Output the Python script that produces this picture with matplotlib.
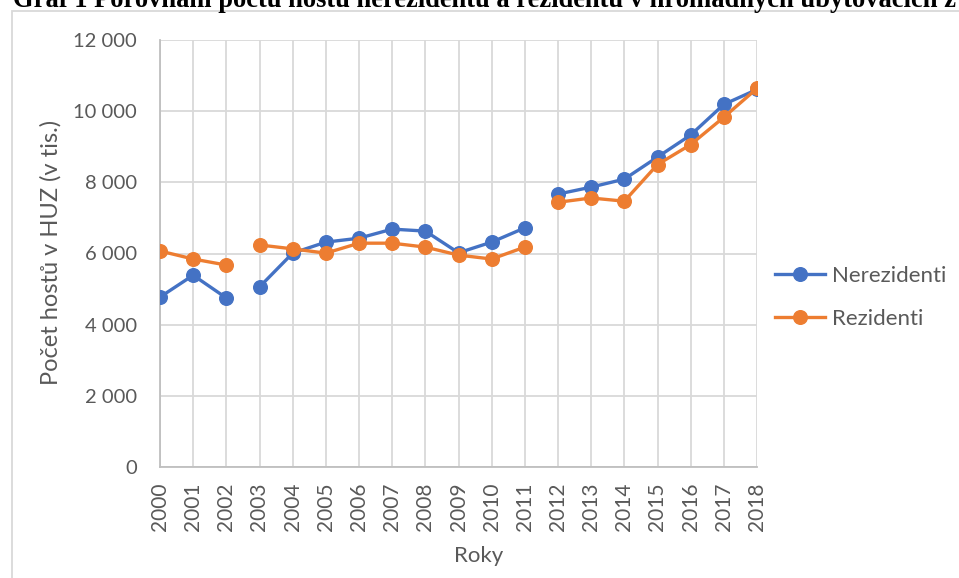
import matplotlib
matplotlib.use("Agg")
import matplotlib.pyplot as plt
from matplotlib.patches import Rectangle
from matplotlib.lines import Line2D
import numpy as np

years = [str(y) for y in range(2000, 2019)]
nerezidenti = [4775, 5390, 4750, 5060, 6010, 6320, 6430, 6685, 6630, 6020,
               6320, 6720, 7670, 7865, 8090, 8710, 9330, 10190, 10610]
rezidenti = [6070, 5845, 5675, 6240, 6130, 6010, 6290, 6290, 6180, 5955,
             5845, 6180, 7440, 7560, 7470, 8500, 9060, 9830, 10640]
# series are drawn as separate connected runs starting at these years
run_starts = ["2000", "2003", "2012"]
yticks = [0, 2000, 4000, 6000, 8000, 10000, 12000]

W, H = 959, 578
fig = plt.figure(figsize=(W / 100, H / 100), dpi=100)

label_color = "#595959"
grid_color = "#D9D9D9"
font = ["Lato", "DejaVu Sans"]

# chart frame
fig.patches.append(Rectangle((12 / W, -0.1), 1.2, (H - 11) / H + 0.1,
                             transform=fig.transFigure, fill=False,
                             edgecolor="#D9D9D9", linewidth=1.3))

# caption above chart (cropped by the screenshot edge, as in the reference)
fig.text(13 / W, 1 - 7 / H,
         "Graf 1 Porovnání počtu hostů nerezidentů a rezidentů v hromadných ubytovacích z",
         family=["Liberation Serif", "DejaVu Serif"], fontweight="bold",
         fontsize=19.1, va="baseline", ha="left", color="black")

ax = fig.add_axes([160 / W, 1 - 467 / H, (757 - 160) / W, (467 - 40) / H])

x = np.arange(len(years))
starts = [years.index(s) for s in run_starts] + [len(years)]
series = [(nerezidenti, "#4472C4", "Nerezidenti"), (rezidenti, "#ED7D31", "Rezidenti")]
for vals, col, name in series:
    v = np.array(vals, dtype=float)
    for a, b in zip(starts[:-1], starts[1:]):
        ax.plot(x[a:b], v[a:b], color=col, linewidth=2.4, marker="o",
                markersize=9.8, solid_capstyle="round", zorder=3)

ax.set_xlim(0, len(years) - 1)
ax.set_ylim(0, 12000)
ax.set_xticks(x)
ax.set_xticklabels(years, rotation=90, family=font, fontsize=15, color=label_color)
ax.set_yticks(yticks)
ax.set_yticklabels([f"{t:,}".replace(",", "\u00a0") if t else "0" for t in yticks],
                   family=font, fontsize=14.5, color=label_color)
ax.tick_params(axis="both", length=0)
ax.tick_params(axis="x", pad=11)
ax.tick_params(axis="y", pad=16.5)

ax.grid(True, color=grid_color, linewidth=1.3, zorder=0)
ax.set_axisbelow(True)
for s in ["top", "right"]:
    ax.spines[s].set_visible(False)
for s in ["left", "bottom"]:
    ax.spines[s].set_color("#BFBFBF")
    ax.spines[s].set_linewidth(1.3)

fig.text(51 / W, 1 - 252 / H, "Počet hostů v HUZ (v tis.)", family=font,
         fontsize=17, color=label_color, rotation=90, ha="center", va="center")
fig.text(479 / W, 1 - 556 / H, "Roky", family=font, fontsize=16,
         color=label_color, ha="center", va="center")

handles = [Line2D([0], [0], color=c, linewidth=2.4, marker="o", markersize=9.8)
           for _, c, _ in series]
leg = fig.legend(handles, [n for _, _, n in series], loc="upper left",
                 bbox_to_anchor=(766 / W, 1 - 257 / H), frameon=False,
                 prop={"family": font, "size": 16}, handlelength=2.25,
                 handletextpad=0.3, labelspacing=1.05, borderaxespad=0)
for t in leg.get_texts():
    t.set_color(label_color)

fig.savefig("out.png", dpi=100)
